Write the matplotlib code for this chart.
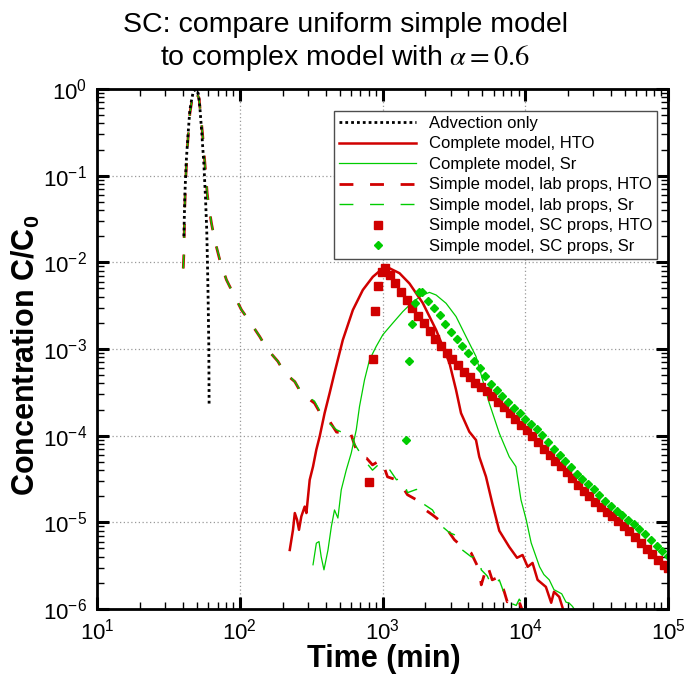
import matplotlib
matplotlib.use('Agg')
import matplotlib.pyplot as plt
import matplotlib.font_manager as fm
from matplotlib.ticker import LogLocator, NullFormatter

# ---- data ----
adv_t = [40.6, 41.2, 42.1, 43.3, 44.7, 46.0, 47.2, 49.0, 51.2, 52.5, 54.2, 56.0,
         57.5, 58.7, 59.4, 60.0, 60.7, 61.0]
adv_c = [2.0e-2, 5.7e-2, 0.139, 0.28, 0.57, 0.75, 0.93, 0.99, 0.89, 0.625, 0.31,
         0.139, 5.7e-2, 2.36e-2, 9.8e-3, 4.0e-3, 1.07e-3, 2.2e-4]

cpl_hto_t = [224, 236, 243, 252, 260, 270, 285, 293, 309, 326, 344, 363, 393, 426,
             461, 527, 620, 728, 855, 1005, 1119, 1315, 1545, 1914, 2374, 2644,
             2944, 3275, 3548, 4057, 4519, 4764, 5306, 5907, 6577, 7727, 8760,
             9574, 10400, 11250, 12200, 13950, 15200, 15900, 17300, 18750]
cpl_hto = [4.8e-6, 8.2e-6, 1.28e-5, 1.07e-5, 8.2e-6, 1.17e-5, 1.52e-5, 1.28e-5,
           3.09e-5, 4.4e-5, 6.9e-5, 9.8e-5, 1.82e-4, 3.09e-4, 5.3e-4, 1.27e-3,
           2.82e-3, 4.8e-3, 6.8e-3, 8.55e-3, 8.55e-3, 7.5e-3, 5.7e-3, 3.4e-3,
           1.66e-3, 1.07e-3, 6.9e-4, 3.37e-4, 1.82e-4, 1.11e-4, 8.9e-5, 5.7e-5,
           3.37e-5, 1.6e-5, 8e-6, 5.2e-6, 3.9e-6, 4.2e-6, 3.07e-6, 3.4e-6,
           2.17e-6, 1.8e-6, 1.18e-6, 1.58e-6, 1.38e-6, 9e-7]

cpl_sr_t = [326, 344, 359, 372, 389, 415, 438, 461, 487, 514, 557, 604, 655, 690,
            748, 811, 903, 1005, 1180, 1387, 1629, 1914, 2133, 2374, 2788, 3275,
            3847, 4519, 5025, 5598, 6577, 7727, 8603, 9333, 10160, 11000, 12600,
            13500, 14730, 15900, 18000, 19300, 20320, 21430, 22650]
cpl_sr = [3.24e-6, 5.75e-6, 6.0e-6, 4.0e-6, 2.83e-6, 4.8e-6, 8.9e-6, 1.39e-5,
          1.12e-5, 2.37e-5, 4.0e-5, 6.3e-5, 1.17e-4, 2.17e-4, 4.4e-4, 7.5e-4,
          1.07e-3, 1.46e-3, 1.99e-3, 2.7e-3, 3.5e-3, 4.2e-3, 4.5e-3, 4.2e-3,
          3.37e-3, 2.37e-3, 1.39e-3, 8.2e-4, 4.4e-4, 2.37e-4, 1.07e-4, 5.7e-5,
          4.4e-5, 1.82e-5, 1.07e-5, 5.8e-6, 3.07e-6, 2.5e-6, 2.17e-6, 1.67e-6,
          1.5e-6, 1.2e-6, 1.17e-6, 1.07e-6, 9.3e-7]

lab_t = [40.2, 40.6, 40.8, 41.2, 41.9, 43.0, 44.7, 46.7, 49.0, 51.9, 53.1, 54.8,
         56.0, 57.5, 59.1, 60.7, 63.4, 66.8, 72.4, 80.6, 89.8, 102.8, 117.5, 138,
         154, 185, 206, 243, 270, 334, 372, 412, 476, 516, 587, 637, 690, 773,
         851, 984, 1084, 1253, 1380, 1496, 1730, 1905, 2239, 2630, 2944, 3187,
         3625, 4188, 4764, 4920, 5420, 5870, 6577, 7130, 7480, 8650, 9080, 9800]
lab_hto = [8.5e-3, 1.28e-2, 1.98e-2, 4.4e-2, 9.7e-2, 0.216, 0.52, 0.82, 0.95,
           0.78, 0.52, 0.31, 0.198, 0.116, 6.3e-2, 4.4e-2, 2.8e-2, 1.8e-2,
           1.07e-2, 6.3e-3, 4.4e-3, 2.83e-3, 2.07e-3, 1.39e-3, 1.02e-3, 7.2e-4,
           5.3e-4, 4.2e-4, 3.09e-4, 2.37e-4, 1.74e-4, 1.6e-4, 1.1e-4, 1.08e-4,
           1.17e-4, 7.8e-5, 5.7e-5, 5.5e-5, 4.6e-5, 5.3e-5, 3.35e-5, 3.09e-5,
           2.56e-5, 2.08e-5, 1.82e-5, 1.47e-5, 1.22e-5, 9.9e-6, 7.6e-6, 6.3e-6,
           5.2e-6, 4.4e-6, 2.83e-6, 1.9e-6, 3.24e-6, 2.17e-6, 2.35e-6, 1.58e-6,
           1.21e-6, 1.38e-6, 1.21e-6, 8.5e-7]
lab_sr = [8.5e-3, 1.28e-2, 1.98e-2, 4.4e-2, 9.7e-2, 0.216, 0.52, 0.82, 0.95,
          0.78, 0.52, 0.31, 0.198, 0.116, 6.3e-2, 4.4e-2, 2.8e-2, 1.8e-2,
          1.1e-2, 6.3e-3, 4.4e-3, 2.83e-3, 2.1e-3, 1.39e-3, 1.02e-3, 7.2e-4,
          5.5e-4, 4.2e-4, 3.2e-4, 2.5e-4, 1.8e-4, 1.44e-4, 1.17e-4, 1.1e-4,
          1.12e-4, 8.0e-5, 6.5e-5, 4.85e-5, 4.0e-5, 5.0e-5, 4.4e-5, 3.1e-5,
          3.26e-5, 2.2e-5, 2.4e-5, 1.66e-5, 1.39e-5, 8.9e-6, 7.6e-6, 7.2e-6,
          4.8e-6, 4.0e-6, 4.0e-6, 2.83e-6, 2.4e-6, 1.8e-6, 2.17e-6, 1.5e-6,
          1.21e-6, 1.1e-6, 1.3e-6, 1.06e-6]

sc_hto_t = [798, 851, 879, 923, 984, 1033, 1122, 1230, 1349, 1479, 1622, 1778,
            1950, 2138, 2344, 2570, 2818, 3090, 3388, 3715, 4074, 4467, 4898,
            5370, 5888, 6457, 7079, 7762, 8511, 9333, 10230, 11220, 12300, 13490,
            14790, 16220, 17780, 19500, 21380, 23440, 25700, 28180, 30900, 33880,
            37150, 40740, 44670, 48980, 53700, 58880, 64570, 70790, 77620, 85110,
            93330, 100000]
sc_hto = [2.9e-5, 7.7e-4, 2.75e-3, 5.3e-3, 7.7e-3, 8.6e-3, 7.1e-3, 5.73e-3,
          4.59e-3, 3.67e-3, 2.96e-3, 2.42e-3, 1.97e-3, 1.61e-3, 1.32e-3, 1.07e-3,
          9.1e-4, 7.7e-4, 6.5e-4, 5.5e-4, 4.7e-4, 4.0e-4, 3.6e-4, 3.26e-4,
          2.87e-4, 2.47e-4, 2.12e-4, 1.82e-4, 1.56e-4, 1.34e-4, 1.15e-4, 9.9e-5,
          8.4e-5, 7.1e-5, 5.97e-5, 5.13e-5, 4.41e-5, 3.77e-5, 3.21e-5, 2.73e-5,
          2.33e-5, 2.0e-5, 1.72e-5, 1.51e-5, 1.33e-5, 1.17e-5, 1.03e-5, 8.97e-6,
          7.85e-6, 6.73e-6, 5.73e-6, 4.88e-6, 4.26e-6, 3.72e-6, 3.26e-6, 2.95e-6]

sc_sr_t = [1472, 1545, 1620, 1700, 1815, 1905, 2089, 2291, 2512, 2754, 3020, 3311,
           3631, 3981, 4365, 4786, 5248, 5754, 6310, 6918, 7586, 8318, 9120,
           10000, 10960, 12020, 13180, 14450, 15850, 17380, 19050, 20890, 22910,
           25120, 27540, 30200, 33110, 36310, 39810, 43650, 47860, 52480, 57540,
           63100, 69180, 75860, 83180, 91200, 100000]
sc_sr = [8.9e-5, 7.3e-4, 1.95e-3, 3.4e-3, 4.6e-3, 4.5e-3, 3.61e-3, 3.0e-3,
         2.46e-3, 1.96e-3, 1.58e-3, 1.31e-3, 1.08e-3, 8.9e-4, 7.3e-4, 6.0e-4,
         4.84e-4, 3.97e-4, 3.37e-4, 2.85e-4, 2.42e-4, 2.07e-4, 1.81e-4, 1.57e-4,
         1.37e-4, 1.2e-4, 1.03e-4, 8.4e-5, 6.93e-5, 5.96e-5, 5.13e-5, 4.32e-5,
         3.62e-5, 3.14e-5, 2.79e-5, 2.45e-5, 2.08e-5, 1.77e-5, 1.55e-5, 1.36e-5,
         1.2e-5, 1.07e-5, 9.5e-6, 8.3e-6, 7.3e-6, 6.3e-6, 5.4e-6, 4.7e-6, 4.1e-6]

RED = '#d00000'
GREEN = '#00cc00'

names = {f.name for f in fm.fontManager.ttflist}
tick_font = 'Liberation Sans Narrow' if 'Liberation Sans Narrow' in names else 'Liberation Sans'

plt.rcParams['font.family'] = ['Liberation Sans', 'DejaVu Sans']
plt.rcParams['mathtext.fontset'] = 'custom'
plt.rcParams['mathtext.rm'] = 'Liberation Sans'
plt.rcParams['mathtext.bf'] = 'Liberation Sans:bold'

fig = plt.figure(figsize=(6.91, 6.80), dpi=100)
ax = fig.add_axes([0.1404, 0.1044, 0.8263, 0.7647])

ax.plot(lab_t, lab_hto, color=RED, lw=2, dashes=(5, 6),
        label='Simple model, lab props, HTO')
ax.plot(lab_t, lab_sr, color=GREEN, lw=1, dashes=(10, 12),
        label='Simple model, lab props, Sr')
ax.plot(cpl_sr_t, cpl_sr, color=GREEN, lw=0.9, label='Complete model, Sr')
ax.plot(cpl_hto_t, cpl_hto, color=RED, lw=1.8, label='Complete model, HTO')
ax.plot(sc_hto_t, sc_hto, ls='none', marker='s', ms=5.5, color=RED, mec=RED,
        label='Simple model, SC props, HTO')
ax.plot(sc_sr_t, sc_sr, ls='none', marker='D', ms=4.4, color=GREEN, mec=GREEN,
        label='Simple model, SC props, Sr')
ax.plot(adv_t, adv_c, color='black', lw=2, dashes=(1, 1.1), label='Advection only')

ax.set_xscale('log')
ax.set_yscale('log')
ax.set_xlim(10, 1e5)
ax.set_ylim(1e-6, 1)
ax.xaxis.set_minor_locator(LogLocator(base=10, subs=range(2, 10), numticks=20))
ax.yaxis.set_minor_locator(LogLocator(base=10, subs=range(2, 10), numticks=20))
ax.xaxis.set_minor_formatter(NullFormatter())
ax.yaxis.set_minor_formatter(NullFormatter())

ax.grid(True, which='major', ls=(0, (1, 2)), color='0.6', lw=0.9)
ax.set_axisbelow(True)
for sp in ax.spines.values():
    sp.set_linewidth(2)
ax.tick_params(which='both', direction='in', top=True, right=True)
ax.tick_params(which='major', length=8.5, width=2.2, pad=7, labelsize=16)
ax.tick_params(which='minor', length=5, width=1)
for lbl in ax.get_xticklabels() + ax.get_yticklabels():
    lbl.set_family(tick_font)

handles, labels = ax.get_legend_handles_labels()
order = [6, 3, 2, 0, 1, 4, 5]
leg = ax.legend([handles[i] for i in order], [labels[i] for i in order],
                loc='upper right', bbox_to_anchor=(0.981, 0.958), borderaxespad=0,
                fontsize=12, handlelength=4.6, handletextpad=0.75,
                labelspacing=0.33, borderpad=0.3, numpoints=1,
                fancybox=False, framealpha=1, edgecolor='0.3')
leg.get_frame().set_linewidth(1)

fig.text(0.5, 0.963, 'SC: compare uniform simple model', ha='center', va='center',
         fontsize=20.5)
fig.text(0.5, 0.914, r'to complex model with $\alpha = 0.6$', ha='center',
         va='center', fontsize=20.5, math_fontfamily='stix')
fig.text(0.038, 0.478, r'Concentration C/C$_\mathbf{0}$', rotation=90, ha='center',
         va='center', fontsize=22, fontweight='bold')
fig.text(0.555, 0.031, 'Time (min)', ha='center', va='center', fontsize=22,
         fontweight='bold')

fig.savefig('out.png', dpi=100)
